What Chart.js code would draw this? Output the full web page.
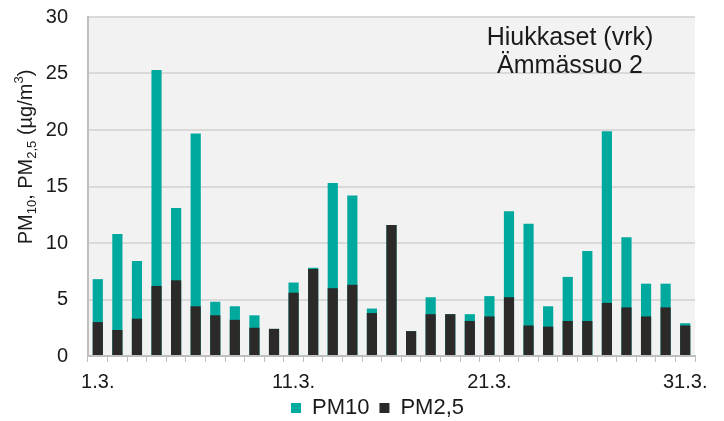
<!DOCTYPE html>
<html>
<head>
<meta charset="utf-8">
<script src="https://cdn.jsdelivr.net/npm/chart.js@4.4.0/dist/chart.umd.js"></script>
<style>
  html, body { margin: 0; padding: 0; background: #ffffff; }
  #wrap { width: 724px; height: 421px; position: relative; }
</style>
</head>
<body>
<div id="wrap"><canvas id="pmChart"></canvas></div>
<script>
// Days of March 2024 (1.3. ... 31.3.)
const days = [];
for (let d = 1; d <= 31; d++) days.push(d + '.3.');

// Daily means, µg/m3
const pm10 = [6.8, 10.8, 8.4, 25.3, 13.1, 19.7, 4.8, 4.4, 3.6, 2.4,
              6.5, 7.8, 15.3, 14.2, 4.2, 11.6, 2.2, 5.2, 3.7, 3.7,
              5.3, 12.8, 11.7, 4.4, 7.0, 9.3, 19.9, 10.5, 6.4, 6.4, 2.9];
const pm25 = [3.0, 2.3, 3.3, 6.2, 6.7, 4.4, 3.6, 3.2, 2.5, 2.4,
              5.6, 7.7, 6.0, 6.3, 3.8, 11.6, 2.2, 3.7, 3.7, 3.1,
              3.5, 5.2, 2.7, 2.6, 3.1, 3.1, 4.7, 4.3, 3.5, 4.3, 2.7];
const labeledDays = ['1.3.', '11.3.', '21.3.', '31.3.'];
const yTicks = [0, 5, 10, 15, 20, 25, 30];

const FONT = "'Liberation Sans', Arial, sans-serif";

// grey plot background behind the bars
const plotBackground = {
    id: 'plotBackground',
    beforeDraw(chart) {
        const a = chart.chartArea;
        const ctx = chart.ctx;
        ctx.save();
        ctx.fillStyle = '#f2f2f2';
        ctx.fillRect(a.left, a.top, a.right - a.left, a.bottom - a.top);
        ctx.restore();
    }
};

// keep the legend short in the layout, then move it to where it sits in the original
const legendShift = {
    id: 'legendShift',
    beforeLayout(chart) {
        const lg = chart.legend;
        if (lg && !lg._shortFit) {
            const fit = lg.fit;
            lg.fit = function() { fit.call(this); this.height = 24; };
            lg._shortFit = true;
        }
    },
    afterLayout(chart) {
        const lg = chart.legend;
        if (!lg) return;
        lg.left += 30; lg.right += 30;
        lg.top = 387; lg.bottom = chart.height; lg.height = lg.bottom - lg.top;
    }
};

// title box in the top right and the y axis title with sub/superscripts
const extraText = {
    id: 'extraText',
    afterDraw(chart) {
        const ctx = chart.ctx;
        ctx.save();
        ctx.fillStyle = '#1a1a1a';
        ctx.textAlign = 'center';
        ctx.textBaseline = 'middle';
        ctx.font = '25px ' + FONT;
        ctx.fillText('Hiukkaset (vrk)', 570, 38);
        ctx.fillText('Ämmässuo 2', 570, 66);

        // y title: PM10, PM2,5 (µg/m3)
        const parts = [
            ['PM', 'n'], ['10', 'sub'], [', PM', 'n'], ['2,5', 'sub'],
            [' (µg/m', 'n'], ['3', 'sup'], [')', 'n']
        ];
        const big = '20px ' + FONT, small = '13px ' + FONT;
        let total = 0;
        parts.forEach(p => {
            ctx.font = p[1] === 'n' ? big : small;
            total += ctx.measureText(p[0]).width;
        });
        ctx.translate(25, 157);
        ctx.rotate(-Math.PI / 2);
        ctx.textAlign = 'left';
        ctx.textBaseline = 'alphabetic';
        let x = -total / 2;
        parts.forEach(p => {
            ctx.font = p[1] === 'n' ? big : small;
            const dy = p[1] === 'sub' ? 11 : (p[1] === 'sup' ? -2 : 7);
            ctx.fillText(p[0], x, dy);
            x += ctx.measureText(p[0]).width;
        });
        ctx.restore();
    }
};

const ctx = document.getElementById('pmChart').getContext('2d');
new Chart(ctx, {
    type: 'bar',
    data: {
        labels: days,
        datasets: [
            {
                label: 'PM10',
                data: pm10,
                backgroundColor: '#00a99d',
                borderWidth: 0,
                order: 1
            },
            {
                label: 'PM2,5',
                data: pm25,
                backgroundColor: '#2b2a29',
                borderWidth: 0,
                order: 0
            }
        ]
    },
    options: {
        responsive: true,
        maintainAspectRatio: false,
        animation: false,
        layout: { padding: { top: 17, right: 29, bottom: 0, left: 0 } },
        datasets: {
            bar: { categoryPercentage: 1.0, barPercentage: 0.52 }
        },
        plugins: {
            legend: {
                position: 'bottom',
                labels: {
                    boxWidth: 10,
                    boxHeight: 10,
                    padding: 10,
                    color: '#1a1a1a',
                    font: { family: FONT, size: 22 },
                    sort: (a, b) => a.datasetIndex - b.datasetIndex
                }
            },
            tooltip: { enabled: false }
        },
        scales: {
            x: {
                stacked: true,
                grid: {
                    display: true,
                    drawOnChartArea: false,
                    offset: true,
                    tickLength: 6,
                    color: '#bfbfbf'
                },
                border: { color: '#bfbfbf', width: 2 },
                ticks: {
                    autoSkip: false,
                    maxRotation: 0,
                    padding: 8,
                    color: '#1a1a1a',
                    font: { family: FONT, size: 20 },
                    callback: function(value, index) {
                        const lbl = days[index];
                        return labeledDays.includes(lbl) ? lbl : '';
                    }
                },
                afterFit: scale => { scale.height = 41; }
            },
            y: {
                stacked: false,
                min: yTicks[0],
                max: yTicks[yTicks.length - 1],
                ticks: {
                    stepSize: 5,
                    padding: 20,
                    color: '#1a1a1a',
                    font: { family: FONT, size: 20 }
                },
                grid: { color: '#d9d9d9', lineWidth: 2, drawTicks: false },
                border: { color: '#bfbfbf', width: 2 },
                afterFit: scale => {
                    scale.width = 88;
                    scale.paddingTop = 0;
                    scale.paddingBottom = 0;
                }
            }
        }
    },
    plugins: [plotBackground, legendShift, extraText]
});
</script>
</body>
</html>
